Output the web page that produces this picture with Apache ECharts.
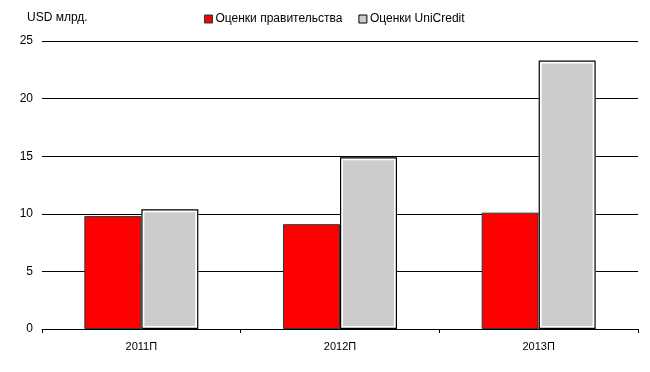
<!DOCTYPE html>
<html>
<head>
<meta charset="utf-8">
<script src="https://cdn.jsdelivr.net/npm/echarts@6/dist/echarts.min.js"></script>
<style>html,body{margin:0;padding:0;background:#fff;}#c{width:650px;height:372px;}</style>
</head>
<body>
<div id="c"></div>
<script>
const categories = ['2011П', '2012П', '2013П'];
const govValues = [9.8, 9.1, 10.1];
const uniValues = [10.4, 14.9, 23.3];
const yTicks = { min: 0, max: 25, interval: 5 };
const unitLabel = 'USD млрд.';
const seriesNames = ['Оценки правительства', 'Оценки UniCredit'];

const font = 'Liberation Sans, Arial, sans-serif';
const chart = echarts.init(document.getElementById('c'), null, { renderer: 'canvas' });
chart.setOption({
  animation: false,
  backgroundColor: '#fff',
  grid: { left: 42, right: 12, top: 41, bottom: 43 },
  graphic: [{
    type: 'text', left: 27, top: 12,
    style: { text: unitLabel, fontFamily: font, fontSize: 12, fill: '#000' }
  }],
  legend: {
    left: 204, top: 13, padding: 0, itemWidth: 8, itemHeight: 8, itemGap: 16, icon: 'rect',
    textStyle: { fontFamily: font, fontSize: 12, color: '#000', padding: [0, 0, 0, -2] },
    data: [
      { name: seriesNames[0], itemStyle: { color: '#ff0000', borderColor: '#1f3f3f', borderWidth: 1 } },
      { name: seriesNames[1], itemStyle: { color: '#cccccc', borderColor: '#000', borderWidth: 1 } }
    ]
  },
  xAxis: [{
    type: 'category', data: categories,
    axisLine: { lineStyle: { color: '#000', width: 1 } },
    axisTick: { show: true, length: 4, inside: false, lineStyle: { color: '#000' } },
    axisLabel: { fontFamily: font, fontSize: 11, color: '#000', margin: 12 },
    splitLine: { show: false }
  }, {
    type: 'category', data: categories, show: false, position: 'bottom'
  }],
  yAxis: {
    type: 'value', min: yTicks.min, max: yTicks.max, interval: yTicks.interval,
    axisLine: { show: false }, axisTick: { show: false },
    axisLabel: { fontFamily: font, fontSize: 12, color: '#000', margin: 9 },
    splitLine: { lineStyle: { color: '#000', width: 1 } }
  },
  series: [
    {
      name: seriesNames[0], type: 'bar', xAxisIndex: 0, data: govValues,
      barWidth: 57, barGap: '0%',
      itemStyle: { color: '#ff0000', borderColor: '#1f3f3f', borderWidth: 1 }
    },
    {
      name: seriesNames[1], type: 'bar', xAxisIndex: 0, data: uniValues,
      barWidth: 57, barGap: '0%',
      itemStyle: { color: '#cccccc', borderColor: '#ffffff', borderWidth: 3 }
    },
    {
      name: 'dummy', type: 'bar', xAxisIndex: 1, data: [null, null, null],
      barWidth: 57, barGap: '0%', silent: true
    },
    {
      name: 'outline', type: 'bar', xAxisIndex: 1, data: uniValues,
      barWidth: 57, barGap: '0%', silent: true, z: 3,
      itemStyle: { color: 'rgba(0,0,0,0)', borderColor: '#000', borderWidth: 1.2 }
    }
  ]
});
</script>
</body>
</html>
